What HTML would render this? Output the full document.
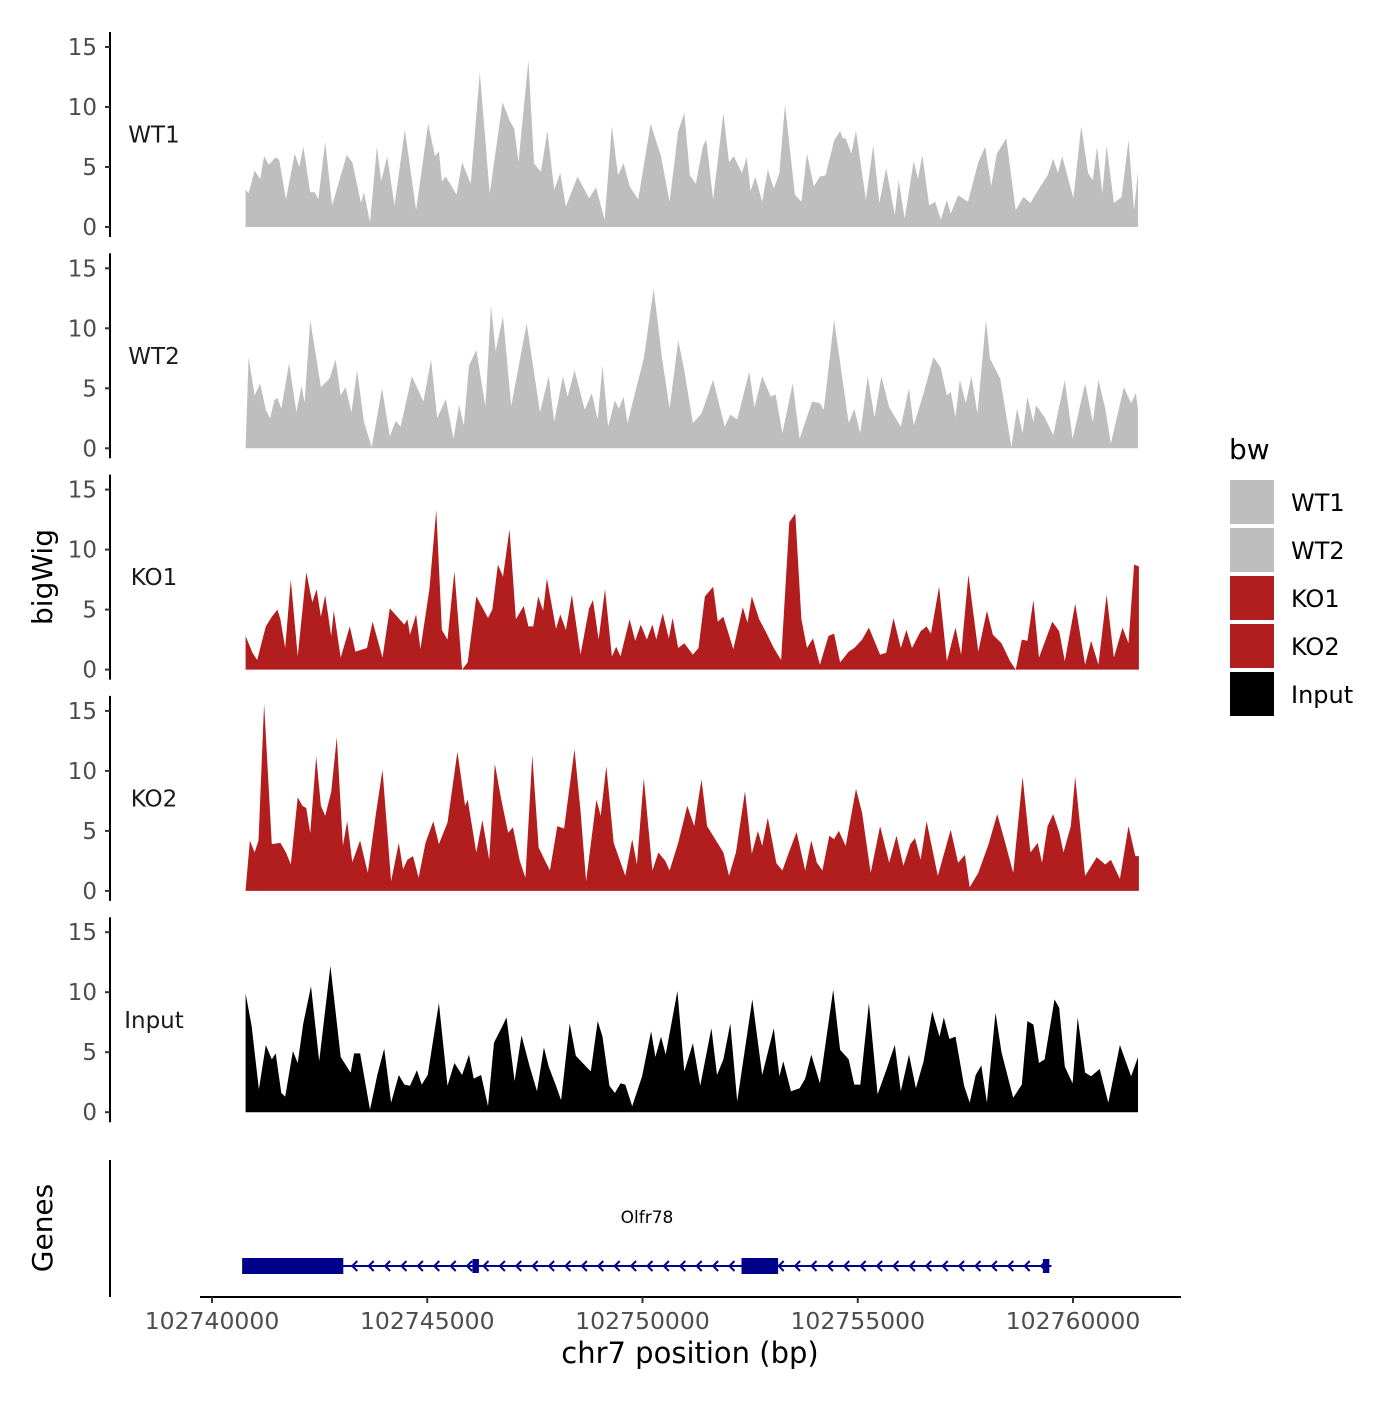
<!DOCTYPE html>
<html><head><meta charset="utf-8"><style>
body{margin:0;background:#fff}
svg{font-family:"DejaVu Sans","Liberation Sans",sans-serif}
</style></head><body>
<svg id="chart" width="1400" height="1400" viewBox="0 0 1400 1400" xmlns="http://www.w3.org/2000/svg">
<text x="0" y="0" transform="translate(52,577) rotate(-90)" text-anchor="middle" font-size="28" fill="#000">bigWig</text>
<text x="0" y="0" transform="translate(52,1228) rotate(-90)" text-anchor="middle" font-size="28" fill="#000">Genes</text>
<g id="tracks"></g>
<g id="genes"></g>
<g id="xaxis"></g>
<g>
<text x="1229" y="459" font-size="28" fill="#000">bw</text>
<rect x="1230" y="480" width="44" height="44" fill="#bebebe"/>
<rect x="1230" y="528" width="44" height="44" fill="#bebebe"/>
<rect x="1230" y="576" width="44" height="44" fill="#b21e1e"/>
<rect x="1230" y="624" width="44" height="44" fill="#b21e1e"/>
<rect x="1230" y="672" width="44" height="44" fill="#000"/>
<text x="1291" y="511" font-size="24" fill="#000">WT1</text>
<text x="1291" y="559" font-size="24" fill="#000">WT2</text>
<text x="1291" y="607" font-size="24" fill="#000">KO1</text>
<text x="1291" y="655" font-size="24" fill="#000">KO2</text>
<text x="1291" y="703" font-size="24" fill="#000">Input</text>
</g>
</svg>
<script>
const trackNames = ["WT1","WT2","KO1","KO2","Input"];
const trackColors = ["#bebebe","#bebebe","#b21e1e","#b21e1e","#000000"];
const yTicks = [0,5,10,15];
const xTicks = [102740000,102745000,102750000,102755000,102760000];
const wt1Pos = [0.78,0.85,0.99,1.12,1.21,1.32,1.48,1.56,1.72,1.92,2.03,2.12,2.28,2.39,2.47,2.63,2.79,3.13,3.26,3.46,3.53,3.67,3.83,3.93,4.07,4.24,4.48,4.74,5.02,5.18,5.27,5.34,5.43,5.68,5.81,6.01,6.22,6.45,6.75,6.91,7.02,7.12,7.35,7.48,7.64,7.79,7.95,8.09,8.22,8.49,8.76,8.92,9.12,9.29,9.43,9.56,9.70,9.90,10.19,10.43,10.63,10.83,10.97,11.10,11.24,11.40,11.48,11.64,11.88,12.01,12.12,12.31,12.42,12.51,12.62,12.78,12.91,13.05,13.18,13.31,13.54,13.69,13.82,13.98,14.12,14.25,14.45,14.59,14.65,14.72,14.85,14.96,15.19,15.36,15.50,15.66,15.86,15.95,16.09,16.30,16.40,16.50,16.66,16.80,16.93,17.07,17.16,17.33,17.56,17.80,17.96,18.10,18.23,18.45,18.67,18.85,19.01,19.21,19.41,19.54,19.65,19.75,20.01,20.19,20.35,20.46,20.56,20.68,20.78,20.95,21.13,21.29,21.42,21.51];
const wt1Val = [3.1,2.8,4.7,4.0,5.9,5.2,5.8,5.6,2.3,6.1,5.0,6.7,2.9,2.9,2.3,7.1,1.8,6.0,5.4,2.0,2.9,0.4,6.7,3.8,5.9,1.8,8.1,1.4,8.6,5.9,6.3,3.8,4.2,2.7,5.4,3.6,12.9,2.8,10.4,8.9,8.2,5.4,13.9,5.3,4.6,8.0,3.1,4.5,1.7,4.2,2.4,3.3,0.6,8.4,4.3,5.3,3.4,2.3,8.6,5.9,2.1,8.0,9.5,4.3,3.6,6.7,7.3,2.3,9.5,5.4,5.9,4.5,5.8,3.0,4.2,2.1,4.8,3.2,4.5,10.2,2.7,2.1,6.1,3.4,4.2,4.3,7.2,8.0,7.4,7.4,6.1,8.0,2.25,6.8,2.0,4.9,1.0,3.9,0.7,5.5,4.0,6.0,1.8,2.1,0.6,2.25,1.1,2.65,2.1,5.4,6.7,3.4,6.1,7.4,1.4,2.5,2.0,3.2,4.3,5.7,4.5,5.9,2.4,8.4,4.5,3.9,6.7,2.8,6.8,2.0,2.5,7.25,1.4,4.6];
const wt2Pos = [0.78,0.85,0.99,1.12,1.25,1.35,1.45,1.52,1.61,1.79,1.96,2.08,2.15,2.28,2.53,2.73,2.87,2.99,3.10,3.24,3.37,3.53,3.71,3.95,4.13,4.27,4.38,4.64,4.91,5.09,5.23,5.43,5.61,5.74,5.85,5.97,6.14,6.35,6.48,6.59,6.76,6.95,7.08,7.31,7.62,7.82,7.95,8.15,8.26,8.42,8.66,8.82,8.96,9.07,9.20,9.36,9.45,9.56,9.65,10.03,10.26,10.45,10.63,10.83,10.97,11.17,11.37,11.64,11.91,12.04,12.20,12.48,12.60,12.78,12.98,13.09,13.25,13.49,13.65,13.94,14.12,14.21,14.45,14.79,14.92,15.06,15.23,15.39,15.55,15.73,16.00,16.19,16.30,16.53,16.76,16.93,17.07,17.16,17.27,17.37,17.51,17.64,17.78,17.98,18.07,18.31,18.57,18.70,18.83,18.94,19.08,19.14,19.34,19.54,19.81,19.99,20.28,20.46,20.59,20.75,20.88,21.18,21.35,21.46,21.51];
const wt2Val = [0.1,7.6,4.4,5.4,3.2,2.5,4.0,4.2,3.3,7.1,3.0,5.2,3.8,10.7,5.1,5.8,7.4,4.4,5.1,3.0,6.5,2.2,0.1,5.0,1.0,2.3,1.8,6.0,3.9,7.4,2.5,4.1,0.8,3.6,1.9,6.9,8.2,3.5,11.9,8.1,11.0,3.5,6.0,10.4,3.0,6.0,2.2,6.0,4.3,6.5,3.2,4.6,2.4,6.9,1.8,4.0,3.3,4.3,2.1,7.5,13.3,7.6,3.3,9.0,6.5,2.1,2.9,5.7,1.8,2.8,2.4,6.4,3.4,6.0,4.3,4.5,1.25,5.4,0.8,3.9,3.75,3.2,10.7,2.1,3.3,1.25,6.0,2.6,6.0,3.4,1.8,5.0,1.9,4.6,7.6,6.7,4.4,4.7,2.6,5.7,3.75,6.0,2.9,10.7,7.5,5.8,0.1,3.3,1.25,4.3,2.2,3.6,2.6,1.1,5.7,0.8,5.4,2.2,5.7,3.3,0.4,5.1,3.75,4.6,3.2];
const ko1Pos = [0.78,0.94,1.05,1.25,1.39,1.52,1.59,1.70,1.83,1.99,2.19,2.33,2.43,2.53,2.63,2.77,2.83,2.99,3.20,3.33,3.60,3.73,3.96,4.13,4.47,4.54,4.60,4.74,4.84,5.05,5.21,5.34,5.47,5.63,5.81,5.94,6.14,6.41,6.51,6.64,6.76,6.91,7.06,7.24,7.35,7.46,7.58,7.69,7.78,7.99,8.09,8.22,8.36,8.56,8.76,8.85,8.98,9.13,9.29,9.39,9.49,9.70,9.83,9.96,10.10,10.23,10.32,10.47,10.61,10.70,10.83,10.97,11.17,11.30,11.45,11.64,11.75,11.88,12.11,12.33,12.44,12.54,12.71,12.87,13.05,13.22,13.41,13.55,13.69,13.82,13.96,14.12,14.32,14.45,14.59,14.79,14.92,15.10,15.26,15.52,15.66,15.83,16.00,16.13,16.26,16.46,16.60,16.70,16.89,17.07,17.27,17.40,17.57,17.80,18.00,18.14,18.34,18.54,18.67,18.81,18.94,19.08,19.21,19.52,19.68,19.81,20.05,20.28,20.42,20.59,20.78,20.95,21.15,21.29,21.42,21.53];
const ko1Val = [2.8,1.4,0.8,3.6,4.4,5.0,4.2,1.8,7.5,1.1,8.1,5.6,6.7,4.4,6.2,2.8,4.9,1.0,3.6,1.5,1.8,4.0,1.0,5.1,3.75,4.2,2.9,4.6,1.7,6.7,13.3,3.3,2.5,8.2,0.0,0.6,6.1,4.3,5.0,8.75,7.75,11.7,4.2,5.3,3.6,3.6,6.1,4.9,7.6,3.4,4.6,3.3,6.25,1.25,5.1,5.8,2.5,6.7,1.1,1.9,1.1,4.2,2.4,3.75,2.5,3.75,2.5,4.7,2.6,4.3,1.8,2.2,1.25,1.8,6.1,6.9,4.0,4.4,1.7,5.2,3.9,6.1,4.2,3.1,1.8,0.8,12.3,13.0,4.2,1.8,2.6,0.4,2.8,3.0,0.6,1.5,1.8,2.5,3.5,1.25,1.4,4.3,1.8,3.3,1.8,3.2,3.6,3.0,6.9,0.7,3.5,1.25,7.9,1.5,4.9,2.9,2.2,0.7,0.0,2.5,2.4,5.8,1.0,4.0,3.2,0.7,5.5,0.4,2.4,0.4,6.25,1.0,3.5,2.2,8.75,8.6];
const ko2Pos = [0.78,0.88,0.99,1.08,1.21,1.39,1.59,1.72,1.83,1.99,2.10,2.19,2.28,2.42,2.53,2.63,2.77,2.90,3.04,3.14,3.26,3.44,3.62,3.80,3.96,4.16,4.34,4.44,4.54,4.67,4.80,4.96,5.14,5.27,5.47,5.70,5.88,5.94,6.14,6.28,6.44,6.57,6.72,6.88,6.99,7.15,7.28,7.44,7.59,7.85,8.02,8.18,8.42,8.56,8.69,8.93,9.03,9.16,9.33,9.60,9.76,9.87,10.03,10.23,10.37,10.53,10.63,10.83,11.04,11.20,11.37,11.50,11.88,12.01,12.17,12.38,12.54,12.68,12.78,12.91,13.11,13.25,13.41,13.58,13.78,13.92,14.05,14.18,14.34,14.45,14.56,14.72,14.96,15.10,15.30,15.52,15.73,15.90,16.06,16.22,16.33,16.46,16.60,16.86,17.16,17.33,17.49,17.60,17.80,18.04,18.24,18.41,18.61,18.83,19.01,19.18,19.28,19.41,19.54,19.68,19.78,19.95,20.05,20.28,20.55,20.75,20.88,21.09,21.29,21.45,21.53];
const ko2Val = [0.1,4.2,3.2,4.2,15.6,3.9,4.0,3.2,2.2,7.8,7.1,6.9,4.8,11.2,7.1,6.25,8.25,12.8,3.75,5.8,2.4,4.2,1.5,6.25,10.1,0.8,4.0,1.8,2.6,2.9,1.1,4.0,5.8,3.9,5.7,11.6,7.1,7.6,3.2,5.9,2.6,10.6,7.6,4.85,5.3,2.5,1.1,11.3,3.6,1.7,5.4,5.2,11.8,6.7,0.8,7.6,6.25,10.4,4.0,1.25,4.3,2.2,9.4,1.7,3.2,2.5,1.7,4.0,7.1,5.4,9.3,5.4,3.2,1.25,3.2,8.3,3.1,5.0,3.75,6.1,2.3,1.7,3.3,4.9,1.7,4.2,2.35,1.7,4.6,4.3,5.0,3.75,8.5,6.5,1.5,5.4,2.35,4.6,2.1,3.9,4.4,2.6,5.8,1.25,5.1,2.35,3.0,0.3,1.5,3.9,6.4,4.2,1.5,9.5,3.2,4.0,2.35,5.4,6.4,4.9,3.2,5.4,9.5,1.25,2.8,2.2,2.6,1.0,5.4,2.9,2.9];
const inputPos = [0.78,0.92,1.09,1.25,1.39,1.48,1.61,1.70,1.88,1.99,2.12,2.30,2.49,2.75,2.99,3.22,3.30,3.44,3.67,3.84,4.00,4.16,4.34,4.47,4.60,4.76,4.87,5.01,5.27,5.47,5.63,5.81,5.97,6.08,6.25,6.41,6.55,6.75,6.84,7.03,7.19,7.38,7.55,7.71,7.82,7.99,8.11,8.31,8.45,8.69,8.80,8.96,9.07,9.23,9.36,9.49,9.60,9.76,9.99,10.20,10.30,10.43,10.54,10.81,10.97,11.17,11.34,11.60,11.73,11.88,12.04,12.20,12.55,12.78,13.05,13.18,13.27,13.45,13.65,13.78,13.92,14.12,14.43,14.59,14.79,14.92,15.06,15.26,15.46,15.66,15.86,16.00,16.19,16.35,16.53,16.73,16.90,17.00,17.13,17.27,17.47,17.60,17.74,17.87,18.00,18.20,18.34,18.61,18.81,18.94,19.08,19.21,19.34,19.57,19.68,19.81,19.99,20.11,20.28,20.42,20.62,20.82,21.09,21.35,21.51];
const inputVal = [9.9,7.2,1.9,5.6,4.4,4.9,1.6,1.3,5.1,4.1,7.4,10.5,4.25,12.2,4.6,3.3,4.9,4.9,0.2,3.1,5.3,0.8,3.1,2.3,2.2,3.5,2.3,3.1,9.1,2.2,4.1,3.1,4.8,2.8,3.1,0.5,5.8,7.2,7.9,2.6,6.4,3.8,1.75,5.4,3.8,2.2,1.0,7.4,4.7,3.8,3.4,7.6,6.3,2.2,1.6,2.4,2.3,0.5,3.0,6.75,4.6,6.3,4.8,10.1,3.4,5.75,2.2,7.0,3.1,4.4,7.4,0.9,9.4,3.1,7.0,3.0,4.25,1.75,2.0,2.8,4.8,2.4,10.2,5.2,4.4,2.3,2.3,9.1,1.5,3.5,5.6,1.75,4.8,2.0,4.25,8.4,6.3,7.9,6.1,6.3,2.2,0.8,3.1,3.9,0.8,8.3,5.0,1.2,2.3,7.6,7.3,4.1,4.4,9.4,8.7,3.8,2.4,7.9,3.3,3.0,3.6,0.8,5.6,3.0,4.6];
const geneName = "Olfr78";
const geneStart = 102740750;
const geneEnd = 102759500;
const exonStarts = [102740700,102746050,102752300,102759300];
const exonEnds = [102743050,102746200,102753150,102759450];

const NS="http://www.w3.org/2000/svg";
function mk(tag,attrs,parent){const e=document.createElementNS(NS,tag);for(const k in attrs)e.setAttribute(k,attrs[k]);parent.appendChild(e);return e;}
const X0=102740000;
function xScale(bp){return 212+(bp-X0)/1000*43.05;}
function panelZero(i){return 227+i*221.3;}
function yScale(i,v){return panelZero(i)-v*12;}
const posArr=[wt1Pos,wt2Pos,ko1Pos,ko2Pos,inputPos];
const valArr=[wt1Val,wt2Val,ko1Val,ko2Val,inputVal];
const tracks=document.getElementById('tracks');
trackNames.forEach((name,i)=>{
  const g=mk('g',{},tracks);
  
  
  const z=panelZero(i);
  const ax=mk('line',{x1:110,x2:110,y1:z-195,y2:z+10,stroke:'#000','stroke-width':2},g);
  
  
  yTicks.forEach(t=>{
    const y=yScale(i,t);
    const tk=mk('line',{x1:105,x2:110,y1:y,y2:y,stroke:'#333','stroke-width':2},g);
    
    
    const tl=mk('text',{x:97,y:y+8,'text-anchor':'end','font-size':23,fill:'#4d4d4d'},g);
    tl.textContent=t;
    
    
  });
  const P=posArr[i],V=valArr[i];
  let d='M'+xScale(X0+P[0]*1000).toFixed(1)+','+z;
  for(let k=0;k<P.length;k++)d+=' L'+xScale(X0+P[k]*1000).toFixed(1)+','+yScale(i,V[k]).toFixed(1);
  d+=' L'+xScale(X0+P[P.length-1]*1000).toFixed(1)+','+z+' Z';
  const area=mk('path',{d:d,fill:trackColors[i]},g);
  
  
  const lab=mk('text',{x:154,y:yScale(i,7.7)+8,'text-anchor':'middle','font-size':23,fill:'#1a1a1a'},g);
  lab.textContent=name;
  
  
});
// genes
const gg=document.getElementById('genes');
const gax=mk('line',{x1:110,x2:110,y1:1160,y2:1297,stroke:'#000','stroke-width':2},gg);


const gy=1266,col='#00008b';
const gl=mk('line',{x1:xScale(geneStart),x2:xScale(geneEnd),y1:gy,y2:gy,stroke:col,'stroke-width':2},gg);


for(let x=xScale(geneStart)+108;x<xScale(geneEnd)-5;x+=16.4){
  const ch=mk('polyline',{points:(x+5)+','+(gy-5)+' '+x+','+gy+' '+(x+5)+','+(gy+5),fill:'none',stroke:col,'stroke-width':2},gg);
  
  
}
exonStarts.forEach((s,k)=>{
  const big=(exonEnds[k]-s)>500;
  const h=big?16:14,w=Math.max(4,xScale(exonEnds[k])-xScale(s));
  const r=mk('rect',{x:xScale(s),y:gy-h/2,width:w,height:h,fill:col},gg);
  
  
});
const gn=mk('text',{x:647,y:1223,'text-anchor':'middle','font-size':17,fill:'#000'},gg);
gn.textContent=geneName;


// x axis
const xa=document.getElementById('xaxis');
const xl=mk('line',{x1:200,x2:1181,y1:1297,y2:1297,stroke:'#000','stroke-width':2},xa);


xTicks.forEach(t=>{
  const x=xScale(t);
  const tk=mk('line',{x1:x,x2:x,y1:1297,y2:1303,stroke:'#333','stroke-width':2},xa);
  
  
  const tl=mk('text',{x:x,y:1329,'text-anchor':'middle','font-size':23.5,fill:'#4d4d4d'},xa);
  tl.textContent=t;
  
  
});
const xt=mk('text',{x:690,y:1363,'text-anchor':'middle','font-size':29,fill:'#000'},xa);
xt.textContent='chr7 position (bp)';


</script>
</body></html>
